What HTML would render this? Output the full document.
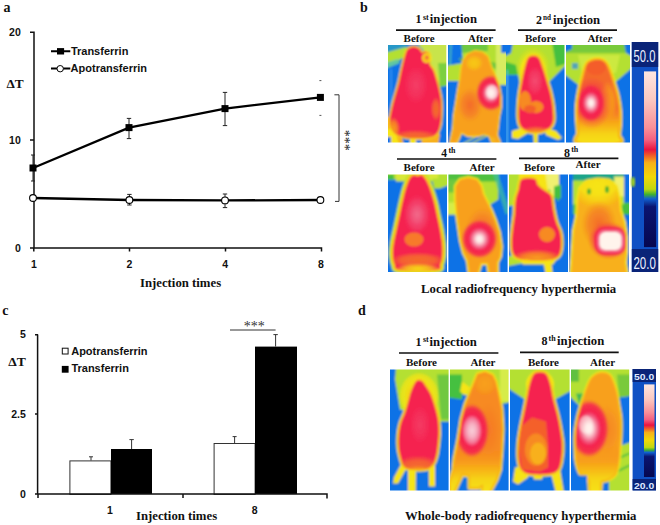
<!DOCTYPE html>
<html><head><meta charset="utf-8">
<style>
html,body{margin:0;padding:0;background:#fff;width:660px;height:525px;overflow:hidden}
svg{display:block}
.sv{font-family:"Liberation Serif",serif;font-weight:bold;fill:#111}
.ss{font-family:"Liberation Sans",sans-serif;font-weight:bold;fill:#111}
</style></head><body>
<svg width="660" height="525" viewBox="0 0 660 525">
<defs>
<filter id="bl" x="-5%" y="-5%" width="110%" height="110%"><feGaussianBlur stdDeviation="1.2"/></filter>
<filter id="bl2" x="-20%" y="-20%" width="140%" height="140%"><feGaussianBlur stdDeviation="2.5"/></filter>
<filter id="tb" x="-10%" y="-10%" width="120%" height="120%"><feGaussianBlur stdDeviation="1"/></filter>
<linearGradient id="gb" x1="0" y1="0" x2="0" y2="1">
<stop offset="0" stop-color="#fde6e0"/><stop offset="0.16" stop-color="#fbc8c0"/><stop offset="0.32" stop-color="#f89098"/>
<stop offset="0.39" stop-color="#f46080"/><stop offset="0.445" stop-color="#ea1440"/><stop offset="0.48" stop-color="#f06028"/>
<stop offset="0.52" stop-color="#f8b018"/><stop offset="0.6" stop-color="#f2d808"/><stop offset="0.67" stop-color="#c0d810"/>
<stop offset="0.7" stop-color="#40b030"/><stop offset="0.725" stop-color="#1060d0"/><stop offset="0.77" stop-color="#0a1470"/>
<stop offset="1" stop-color="#060850"/></linearGradient>
<linearGradient id="gd" x1="0" y1="0" x2="0" y2="1">
<stop offset="0" stop-color="#fde6e0"/><stop offset="0.16" stop-color="#fbc8c0"/><stop offset="0.3" stop-color="#f89098"/>
<stop offset="0.38" stop-color="#f46080"/><stop offset="0.44" stop-color="#ea1440"/><stop offset="0.48" stop-color="#f06028"/>
<stop offset="0.52" stop-color="#f8b018"/><stop offset="0.6" stop-color="#f2d808"/><stop offset="0.68" stop-color="#c0d810"/>
<stop offset="0.71" stop-color="#40b030"/><stop offset="0.735" stop-color="#1060d0"/><stop offset="0.78" stop-color="#0a1470"/>
<stop offset="1" stop-color="#060850"/></linearGradient>
</defs>

<!-- ============ PANEL A ============ -->
<g id="pa">
<text class="sv" x="3.6" y="12.2" font-size="14">a</text>
<g class="ss" font-size="10.5" text-anchor="end">
<text x="20.8" y="36">20</text>
<text x="20.8" y="144">10</text>
<text x="20.8" y="251.5">0</text>
</g>
<text class="sv" x="6.4" y="88.4" font-size="13" textLength="17.2" lengthAdjust="spacingAndGlyphs">ΔT</text>
<g stroke="#111" stroke-width="1.5" fill="none">
<path d="M34 31.6V248.8M30 32.2H34.5M30 140H34.5M30 248H321.5V251.5M129.5 248V251.5M225.5 248V251.5M33.8 248V251.5"/>
</g>
<g class="ss" font-size="10.5" text-anchor="middle">
<text x="33.9" y="268.4">1</text>
<text x="129.4" y="268.4">2</text>
<text x="225.2" y="268.4">4</text>
<text x="320.9" y="268.4">8</text>
</g>
<text class="sv" x="140" y="287" font-size="12.75">Injection times</text>
<!-- error bars -->
<g stroke="#222" stroke-width="1" fill="none">
<path d="M33 155V181M31 155H35M31 181H35"/>
<path d="M129 118.4V138.6M126.8 118.4H131.2M126.8 138.6H131.2"/>
<path d="M225 92.4V125.6M222.8 92.4H227.2M222.8 125.6H227.2"/>
<path d="M319.4 80.6H321.4M319.4 115.4H321.4" stroke="#555"/>
<path d="M129.4 194.4V205M127.2 194.4H131.6M127.2 205H131.6"/>
<path d="M225 194V207.6M222.8 194H227.2M222.8 207.6H227.2"/>
</g>
<!-- lines -->
<polyline points="33,168 129,127.6 225,108.6 320.4,97.4" fill="none" stroke="#000" stroke-width="2.3"/>
<polyline points="33,198 129.4,200 225,200.4 320.4,200" fill="none" stroke="#000" stroke-width="2.3"/>
<g fill="#000">
<rect x="29.5" y="164.5" width="7" height="7"/>
<rect x="125.5" y="124.1" width="7" height="7"/>
<rect x="221.5" y="105.1" width="7" height="7"/>
<rect x="316.9" y="93.9" width="7" height="7"/>
</g>
<g fill="#fff" stroke="#000" stroke-width="1.1">
<circle cx="33" cy="198" r="3.4"/>
<circle cx="129.4" cy="200" r="3.4"/>
<circle cx="225" cy="200.4" r="3.4"/>
<circle cx="320.4" cy="200" r="3.4"/>
</g>
<!-- legend -->
<path d="M51 51.3H70.3M51 68.6H70.3" stroke="#000" stroke-width="2"/>
<rect x="57" y="48.1" width="7.1" height="6.4" fill="#000"/>
<circle cx="60.2" cy="68.7" r="3.2" fill="#fff" stroke="#000" stroke-width="1"/>
<g class="ss" font-size="11">
<text x="70.9" y="54.5">Transferrin</text>
<text x="70.6" y="72.3">Apotransferrin</text>
</g>
<!-- bracket -->
<path d="M334.4 94.8H339V201.4H335" stroke="#333" stroke-width="1" fill="none"/>
<text font-family="Liberation Serif" font-size="14" fill="#222" transform="translate(339.5,129.7) rotate(90)">***</text>
</g>

<!-- ============ PANEL C ============ -->
<g id="pc">
<text class="sv" x="2.2" y="314.8" font-size="14">c</text>
<g class="ss" font-size="10.5" text-anchor="end">
<text x="25.8" y="338.2">5</text>
<text x="25.8" y="418.2">2.5</text>
<text x="25.8" y="497.8">0</text>
</g>
<text class="sv" x="8.2" y="365.6" font-size="13" textLength="17.6" lengthAdjust="spacingAndGlyphs">ΔT</text>
<!-- bars -->
<rect x="69.9" y="460.9" width="41" height="33.5" fill="#fff" stroke="#333" stroke-width="1"/>
<rect x="111" y="449" width="41" height="45" fill="#000"/>
<rect x="214.1" y="443.5" width="41" height="50.9" fill="#fff" stroke="#333" stroke-width="1"/>
<rect x="255" y="346.6" width="42" height="147.4" fill="#000"/>
<g stroke="#333" stroke-width="1" fill="none">
<path d="M91 460.5V456.8M89 456.8H93"/>
<path d="M131.6 449V439.6M129.4 439.6H133.8"/>
<path d="M234.6 443V436.6M232.6 436.6H236.6"/>
<path d="M275.6 346.6V334.6M273.4 334.6H277.8"/>
<path d="M230 330H275.6"/>
</g>
<g stroke="#111" stroke-width="1.5" fill="none">
<path d="M37.6 334.4V494.8M35 334.8H38M35 414H38M35 494H327V498.5M183 494V498M38 494V498"/>
</g>
<text font-family="Liberation Serif" font-size="14" fill="#333" x="243.8" y="331.2">***</text>
<!-- legend -->
<rect x="62.3" y="348.2" width="5.8" height="5.8" fill="#fff" stroke="#111" stroke-width="1"/>
<rect x="61.8" y="365.9" width="6.8" height="6.8" fill="#000"/>
<g class="ss" font-size="11">
<text x="71.2" y="354.5">Apotransferrin</text>
<text x="71.4" y="372.3">Transferrin</text>
</g>
<g class="ss" font-size="10.5" text-anchor="middle">
<text x="110" y="514.2">1</text>
<text x="254.6" y="514.2">8</text>
</g>
<text class="sv" x="136" y="520" font-size="12.75">Injection times</text>
</g>

<!-- ============ PANEL B ============ -->
<g id="pb">
<text class="sv" x="360" y="11.7" font-size="14">b</text>
<!-- headers -->
<g class="sv">
<text x="415.5" y="23.4" font-size="12">1</text><text x="423" y="19.5" font-size="8">st</text><text x="429.8" y="23.4" font-size="12.7">injection</text>
<text x="535.9" y="23.8" font-size="12">2</text><text x="543" y="19.8" font-size="8" textLength="8" lengthAdjust="spacingAndGlyphs">nd</text><text x="552.9" y="23.8" font-size="12.7">injection</text>
<text x="441.2" y="156.8" font-size="11.5">4</text><text x="448.4" y="152.9" font-size="8">th</text>
<text x="564.1" y="156.6" font-size="12">8</text><text x="571.2" y="152" font-size="8">th</text>
</g>
<g stroke="#111" stroke-width="1.6">
<path d="M396 30.1H495.6M518 30.1H617M397 159H496.4M519 158.4H618.4"/>
</g>
<g class="sv" font-size="11">
<text x="403.6" y="41.6">Before</text>
<text x="468" y="41.6">After</text>
<text x="525" y="41.6">Before</text>
<text x="587.4" y="41.6">After</text>
<text x="403.6" y="170.6">Before</text>
<text x="469.6" y="170.6">After</text>
<text x="524" y="170.6">Before</text>
<text x="575.6" y="168">After</text>
</g>
<text class="sv" x="421" y="293" font-size="12.75">Local radiofrequency hyperthermia</text>
<!-- images placeholders -->
<!-- colorbar b -->
<g id="cbb">
<rect x="631.8" y="42" width="26.4" height="230" fill="#0f50c4"/>
<rect x="631.8" y="42" width="26.4" height="25" fill="#0a2478"/>
<rect x="631.8" y="249" width="26.4" height="23" fill="#0a2478"/>
<rect x="644" y="71.4" width="12.1" height="175.7" fill="url(#gb)"/>
<ellipse cx="633" cy="182" rx="2" ry="5" fill="#a0d020" filter="url(#tb)"/>
<text x="0" y="0" transform="translate(633.6,62.2) scale(0.7,1)" font-family="Liberation Sans" font-size="16" fill="#eef2ff">50.0</text>
<text x="0" y="0" transform="translate(633.4,268.6) scale(0.7,1)" font-family="Liberation Sans" font-size="16.5" fill="#eef2ff">20.0</text>
</g>
</g>

<!-- ============ PANEL D ============ -->
<g id="pd">
<text class="sv" x="357.9" y="314.9" font-size="14">d</text>
<g class="sv">
<text x="415.5" y="345.6" font-size="12">1</text><text x="423" y="341.9" font-size="8">st</text><text x="429.6" y="345.6" font-size="12.7">injection</text>
<text x="541.6" y="345.4" font-size="12">8</text><text x="548.5" y="341.1" font-size="8">th</text><text x="557" y="345.4" font-size="12.7">injection</text>
</g>
<g stroke="#111" stroke-width="1.6">
<path d="M399 353H498.4M520 352.4H618.7"/>
</g>
<g class="sv" font-size="11">
<text x="406" y="365.6">Before</text>
<text x="470.4" y="365.6">After</text>
<text x="528" y="365.6">Before</text>
<text x="590" y="365.6">After</text>
</g>
<text class="sv" x="405" y="519.6" font-size="12.75">Whole-body radiofrequency hyperthermia</text>
<!--IMG_START-->
<radialGradient id="hs1"><stop offset="0" stop-color="#fff8f2"/><stop offset="0.16" stop-color="#fde8e6"/><stop offset="0.3" stop-color="#f8a8b8"/><stop offset="0.46" stop-color="#f25a80"/><stop offset="0.6" stop-color="#f5224f"/><stop offset="0.84" stop-color="#f5224f" stop-opacity="0.85"/><stop offset="1" stop-color="#f04040" stop-opacity="0"/></radialGradient>
<radialGradient id="hs2"><stop offset="0" stop-color="#fff8f0"/><stop offset="0.55" stop-color="#fff0e8"/><stop offset="0.66" stop-color="#f8b0c0"/><stop offset="0.76" stop-color="#f04a70"/><stop offset="0.86" stop-color="#f5224f"/><stop offset="0.94" stop-color="#f5224f" stop-opacity="0.7"/><stop offset="1" stop-color="#f04040" stop-opacity="0"/></radialGradient>
<radialGradient id="hsP"><stop offset="0" stop-color="#f9d0da"/><stop offset="0.25" stop-color="#f7b0c2"/><stop offset="0.45" stop-color="#f47898"/><stop offset="0.6" stop-color="#f5224f"/><stop offset="0.84" stop-color="#f5224f" stop-opacity="0.85"/><stop offset="1" stop-color="#f04040" stop-opacity="0"/></radialGradient>
<radialGradient id="og"><stop offset="0" stop-color="#f46a2a"/><stop offset="0.6" stop-color="#f47a28" stop-opacity="0.7"/><stop offset="1" stop-color="#f78a20" stop-opacity="0"/></radialGradient>
<radialGradient id="oo"><stop offset="0" stop-color="#f8a01a"/><stop offset="0.6" stop-color="#f8a01a" stop-opacity="0.7"/><stop offset="1" stop-color="#f8a01a" stop-opacity="0"/></radialGradient>
<radialGradient id="yy"><stop offset="0" stop-color="#f6e414"/><stop offset="0.6" stop-color="#f6e414" stop-opacity="0.7"/><stop offset="1" stop-color="#f6e414" stop-opacity="0"/></radialGradient>
<radialGradient id="pk"><stop offset="0" stop-color="#f36a8a"/><stop offset="0.6" stop-color="#f25078" stop-opacity="0.6"/><stop offset="1" stop-color="#f5224f" stop-opacity="0"/></radialGradient>
<radialGradient id="rr"><stop offset="0" stop-color="#f5224f"/><stop offset="0.6" stop-color="#f5224f" stop-opacity="0.7"/><stop offset="1" stop-color="#f5224f" stop-opacity="0"/></radialGradient>
<linearGradient id="oy" x1="0" y1="0" x2="0" y2="1"><stop offset="0" stop-color="#f78a20" stop-opacity="0"/><stop offset="0.35" stop-color="#f8a01a"/><stop offset="0.7" stop-color="#f6d414"/><stop offset="1" stop-color="#f6e414"/></linearGradient>
<linearGradient id="ro" x1="0" y1="0" x2="0" y2="1"><stop offset="0" stop-color="#f46a2a" stop-opacity="0"/><stop offset="0.4" stop-color="#f46a2a"/><stop offset="0.75" stop-color="#f8a01a"/><stop offset="1" stop-color="#f6d414"/></linearGradient>

<clipPath id="cp0"><rect x="0" y="0" width="58.3" height="97.6"/></clipPath><g transform="translate(388,45)" clip-path="url(#cp0)"><g filter="url(#tb)"><rect x="-4" y="-4" width="66.3" height="105.6" fill="#0a72e6"/><path d="M28,-3 L62,-3 L62,40 L52,40 L45,25 L40,10Z" fill="#c8e44c" /><path d="M50,18 L62,18 L62,40 L52,42Z" fill="#7cd040" /><path d="M-3,-3 L20,-3 L18,3 L-3,10Z" fill="#2898c8" /><path d="M-3,8 L18,2 L22,8 L10,16 L-3,20Z" fill="#b4e030" /><path d="M-3,18 L10,14 L12,18 L-3,24Z" fill="#60c8a0" /><path d="M2,24 L4,24 L4,80 L2,80Z" fill="#2a8cf0" /><path d="M-3,72 L5,72 L10,88 L20,92 L44,92 L50,86 L52,90 L50,101 L-3,101Z" fill="#f8b01a" /><path d="M-3,84 L6,84 L12,101 L-3,101Z" fill="#f6e414" /><path d="M-3,92 L3,92 L3,101 L-3,101Z" fill="#0a72e6" /><path d="M14,92 L34,92 L33,101 L16,101Z" fill="#0a72e6" /><path d="M22,90 L28,90 L28,101 L22,101Z" fill="#f6e414" /><path d="M18,8 C19.2,4.6 19.7,4.5 21,3.5 C22.3,2.5 24.3,1.9 26,2 C27.7,2.1 29.7,3.0 31,4 C32.3,5.0 33.0,7.5 34,8 C35.0,8.5 35.8,6.8 37,7 C38.2,7.2 40.2,7.8 41,9 C41.8,10.2 42.0,12.3 42,14 C42.0,15.7 40.5,17.2 41,19 C41.5,20.8 43.8,22.5 45,25 C46.2,27.5 47.0,30.7 48,34 C49.0,37.3 50.2,41.2 51,45 C51.8,48.8 52.7,52.8 53,57 C53.3,61.2 53.2,66.2 53,70 C52.8,73.8 52.7,77.0 52,80 C51.3,83.0 50.7,86.0 49,88 C47.3,90.0 46.2,91.2 42,92 C37.8,92.8 29.3,93.3 24,93 C18.7,92.7 13.3,91.5 10,90 C6.7,88.5 5.3,86.3 4,84 C2.7,81.7 2.0,79.3 2,76 C2.0,72.7 3.2,68.0 4,64 C4.8,60.0 5.8,56.3 7,52 C8.2,47.7 9.8,42.7 11,38 C12.2,33.3 12.8,29.0 14,24 C15.2,19.0 16.8,11.4 18,8Z" fill="#f6e414" stroke="#f6e414" stroke-width="3.5" stroke-linejoin="round"/><path d="M18,8 C19.2,4.6 19.7,4.5 21,3.5 C22.3,2.5 24.3,1.9 26,2 C27.7,2.1 29.7,3.0 31,4 C32.3,5.0 33.0,7.5 34,8 C35.0,8.5 35.8,6.8 37,7 C38.2,7.2 40.2,7.8 41,9 C41.8,10.2 42.0,12.3 42,14 C42.0,15.7 40.5,17.2 41,19 C41.5,20.8 43.8,22.5 45,25 C46.2,27.5 47.0,30.7 48,34 C49.0,37.3 50.2,41.2 51,45 C51.8,48.8 52.7,52.8 53,57 C53.3,61.2 53.2,66.2 53,70 C52.8,73.8 52.7,77.0 52,80 C51.3,83.0 50.7,86.0 49,88 C47.3,90.0 46.2,91.2 42,92 C37.8,92.8 29.3,93.3 24,93 C18.7,92.7 13.3,91.5 10,90 C6.7,88.5 5.3,86.3 4,84 C2.7,81.7 2.0,79.3 2,76 C2.0,72.7 3.2,68.0 4,64 C4.8,60.0 5.8,56.3 7,52 C8.2,47.7 9.8,42.7 11,38 C12.2,33.3 12.8,29.0 14,24 C15.2,19.0 16.8,11.4 18,8Z" fill="#f8b01a" stroke="#f8b01a" stroke-width="2" stroke-linejoin="round"/><path d="M18,8 C19.2,4.6 19.7,4.5 21,3.5 C22.3,2.5 24.3,1.9 26,2 C27.7,2.1 29.7,3.0 31,4 C32.3,5.0 33.0,7.5 34,8 C35.0,8.5 35.8,6.8 37,7 C38.2,7.2 40.2,7.8 41,9 C41.8,10.2 42.0,12.3 42,14 C42.0,15.7 40.5,17.2 41,19 C41.5,20.8 43.8,22.5 45,25 C46.2,27.5 47.0,30.7 48,34 C49.0,37.3 50.2,41.2 51,45 C51.8,48.8 52.7,52.8 53,57 C53.3,61.2 53.2,66.2 53,70 C52.8,73.8 52.7,77.0 52,80 C51.3,83.0 50.7,86.0 49,88 C47.3,90.0 46.2,91.2 42,92 C37.8,92.8 29.3,93.3 24,93 C18.7,92.7 13.3,91.5 10,90 C6.7,88.5 5.3,86.3 4,84 C2.7,81.7 2.0,79.3 2,76 C2.0,72.7 3.2,68.0 4,64 C4.8,60.0 5.8,56.3 7,52 C8.2,47.7 9.8,42.7 11,38 C12.2,33.3 12.8,29.0 14,24 C15.2,19.0 16.8,11.4 18,8Z" fill="#f5224f"/><clipPath id="bc1"><path d="M18,8 C19.2,4.6 19.7,4.5 21,3.5 C22.3,2.5 24.3,1.9 26,2 C27.7,2.1 29.7,3.0 31,4 C32.3,5.0 33.0,7.5 34,8 C35.0,8.5 35.8,6.8 37,7 C38.2,7.2 40.2,7.8 41,9 C41.8,10.2 42.0,12.3 42,14 C42.0,15.7 40.5,17.2 41,19 C41.5,20.8 43.8,22.5 45,25 C46.2,27.5 47.0,30.7 48,34 C49.0,37.3 50.2,41.2 51,45 C51.8,48.8 52.7,52.8 53,57 C53.3,61.2 53.2,66.2 53,70 C52.8,73.8 52.7,77.0 52,80 C51.3,83.0 50.7,86.0 49,88 C47.3,90.0 46.2,91.2 42,92 C37.8,92.8 29.3,93.3 24,93 C18.7,92.7 13.3,91.5 10,90 C6.7,88.5 5.3,86.3 4,84 C2.7,81.7 2.0,79.3 2,76 C2.0,72.7 3.2,68.0 4,64 C4.8,60.0 5.8,56.3 7,52 C8.2,47.7 9.8,42.7 11,38 C12.2,33.3 12.8,29.0 14,24 C15.2,19.0 16.8,11.4 18,8Z"/></clipPath><g clip-path="url(#bc1)"><ellipse cx="28" cy="40" rx="14" ry="22" fill="url(#pk)" opacity="0.4"/><ellipse cx="48" cy="64" rx="5" ry="12" fill="url(#og)" /><ellipse cx="27" cy="93" rx="26" ry="8" fill="url(#og)" /><ellipse cx="5" cy="84" rx="7" ry="12" fill="url(#oo)" /></g><ellipse cx="38.5" cy="13" rx="4.5" ry="5" fill="#f6e414" /><ellipse cx="38.5" cy="13" rx="3" ry="3.5" fill="#f8b01a" /><ellipse cx="39" cy="12.5" rx="1.2" ry="1.2" fill="#f5224f" /></g></g>
<clipPath id="cp1"><rect x="0" y="0" width="58" height="97.6"/></clipPath><g transform="translate(448,45)" clip-path="url(#cp1)"><g filter="url(#tb)"><rect x="-4" y="-4" width="66" height="105.6" fill="#0a72e6"/><path d="M-3,12 L12,10 L18,-3 L62,-3 L62,40 L48,40 L48,36 L-3,36Z" fill="#b4e030" /><path d="M-3,-3 L13,-3 L15,18 L-3,21Z" fill="#0a72e6" /><path d="M2,-3 L4,-3 L3,20 L1,20Z" fill="#40b0c0" /><path d="M12,14 L17,16" stroke="#50b040" stroke-width="2" fill="none" stroke-linecap="round"/><path d="M13,-3 L40,-3 L40,6 L14,8Z" fill="#70c840" /><path d="M36,15 L48,18 L48,24 L36,21Z" fill="#60c040" opacity="0.8"/><path d="M48,-3 L62,-3 L62,39 L48,39Z" fill="#d8ec60" /><path d="M53,-3 L62,-3 L62,8 L53,8Z" fill="#0a72e6" /><path d="M9,86 L17,86 L15,101 L7,101Z" fill="#0a72e6" /><path d="M20,91 L44,89 L44,101 L18,101Z" fill="#0a72e6" /><path d="M12,101 L22,95 L32,89" stroke="#c8e030" stroke-width="1.3" fill="none" stroke-linecap="round"/><path d="M20,101 L30,95 L40,90" stroke="#c8e030" stroke-width="1.3" fill="none" stroke-linecap="round"/><path d="M16,16 L20,10 L27,7 L34,8 L39,12 L41,18 L43,24 L46,30 L50,40 L52,52 L52,62 L50,72 L49,82 L48,90 L51,97.6 L45,97.6 L42,90 L36,88 L30,90 L20,90 L13,86 L8,97.6 L3,97.6 L6,84 L7,70 L9,58 L11,45 L13,34 L14,24Z" fill="#f6e414" stroke="#f6e414" stroke-width="4" stroke-linejoin="round"/><path d="M16,16 L20,10 L27,7 L34,8 L39,12 L41,18 L43,24 L46,30 L50,40 L52,52 L52,62 L50,72 L49,82 L48,90 L51,97.6 L45,97.6 L42,90 L36,88 L30,90 L20,90 L13,86 L8,97.6 L3,97.6 L6,84 L7,70 L9,58 L11,45 L13,34 L14,24Z" fill="#f8b01a" stroke="#f8b01a" stroke-width="2.5" stroke-linejoin="round"/><path d="M16,16 L20,10 L27,7 L34,8 L39,12 L41,18 L43,24 L46,30 L50,40 L52,52 L52,62 L50,72 L49,82 L48,90 L51,97.6 L45,97.6 L42,90 L36,88 L30,90 L20,90 L13,86 L8,97.6 L3,97.6 L6,84 L7,70 L9,58 L11,45 L13,34 L14,24Z" fill="#f8a01e"/><clipPath id="bc2"><path d="M16,16 L20,10 L27,7 L34,8 L39,12 L41,18 L43,24 L46,30 L50,40 L52,52 L52,62 L50,72 L49,82 L48,90 L51,97.6 L45,97.6 L42,90 L36,88 L30,90 L20,90 L13,86 L8,97.6 L3,97.6 L6,84 L7,70 L9,58 L11,45 L13,34 L14,24Z"/></clipPath><g clip-path="url(#bc2)"><ellipse cx="26" cy="18" rx="15" ry="14" fill="url(#oo)" /><ellipse cx="26" cy="18" rx="9" ry="8" fill="url(#yy)" opacity="0.6"/><ellipse cx="22" cy="60" rx="13" ry="18" fill="url(#og)" /><ellipse cx="28" cy="84" rx="22" ry="10" fill="url(#oo)" /><ellipse cx="28" cy="95" rx="22" ry="6" fill="url(#yy)" /><ellipse cx="43" cy="48" rx="15" ry="18" fill="url(#hs1)" /><ellipse cx="44" cy="47" rx="6" ry="7" fill="#fff0ec" opacity="0.6"/></g></g></g>
<clipPath id="cp2"><rect x="0" y="0" width="58.5" height="97.6"/></clipPath><g transform="translate(506,45)" clip-path="url(#cp2)"><g filter="url(#tb)"><rect x="-4" y="-4" width="66.5" height="105.6" fill="#0a72e6"/><path d="M5,-3 L62,-3 L62,18 L42,38 L40,44 L15,44 L12,30 L-3,28 L-3,12 L5,8Z" fill="#b4e030" /><path d="M-3,-3 L7,-3 L5,8 L-3,12Z" fill="#0a72e6" /><path d="M46,-3 L62,-3 L62,18 L50,22Z" fill="#44c040" /><path d="M-3,16 L10,20 L12,30 L-3,30Z" fill="#44c040" /><path d="M0.5,25 L1.8,25 L1.8,101 L0.5,101Z" fill="#60c0f0" /><ellipse cx="27" cy="22" rx="17" ry="20" fill="url(#yy)" /><ellipse cx="27" cy="28" rx="13" ry="18" fill="#f6e414" /><path d="M6,86 L19,82 L22,88 L12,94 L6,93Z" fill="#f6e414" /><path d="M38,82 L50,86 L56,93 L52,95 L40,90Z" fill="#f6e414" /><path d="M27,85 L32,85 L31.5,101 L28,101Z" fill="#f6e414" /><path d="M22,14 C22.8,12.6 23.7,11.9 25,11.5 C26.3,11.1 28.7,11.1 30,11.5 C31.3,11.9 32.2,12.8 33,14 C33.8,15.2 34.2,16.7 35,19 C35.8,21.3 37.0,24.8 38,28 C39.0,31.2 40.0,34.7 41,38 C42.0,41.3 43.2,44.7 44,48 C44.8,51.3 45.5,54.7 46,58 C46.5,61.3 46.8,65.0 47,68 C47.2,71.0 47.5,73.7 47,76 C46.5,78.3 45.8,80.3 44,82 C42.2,83.7 38.7,85.2 36,86 C33.3,86.8 30.7,87.2 28,87 C25.3,86.8 22.2,86.0 20,85 C17.8,84.0 16.2,82.8 15,81 C13.8,79.2 13.3,77.2 13,74 C12.7,70.8 12.8,66.0 13,62 C13.2,58.0 13.5,54.0 14,50 C14.5,46.0 15.3,41.7 16,38 C16.7,34.3 17.3,31.0 18,28 C18.7,25.0 19.3,22.3 20,20 C20.7,17.7 21.2,15.4 22,14Z" fill="#f6e414" stroke="#f6e414" stroke-width="5" stroke-linejoin="round"/><path d="M22,14 C22.8,12.6 23.7,11.9 25,11.5 C26.3,11.1 28.7,11.1 30,11.5 C31.3,11.9 32.2,12.8 33,14 C33.8,15.2 34.2,16.7 35,19 C35.8,21.3 37.0,24.8 38,28 C39.0,31.2 40.0,34.7 41,38 C42.0,41.3 43.2,44.7 44,48 C44.8,51.3 45.5,54.7 46,58 C46.5,61.3 46.8,65.0 47,68 C47.2,71.0 47.5,73.7 47,76 C46.5,78.3 45.8,80.3 44,82 C42.2,83.7 38.7,85.2 36,86 C33.3,86.8 30.7,87.2 28,87 C25.3,86.8 22.2,86.0 20,85 C17.8,84.0 16.2,82.8 15,81 C13.8,79.2 13.3,77.2 13,74 C12.7,70.8 12.8,66.0 13,62 C13.2,58.0 13.5,54.0 14,50 C14.5,46.0 15.3,41.7 16,38 C16.7,34.3 17.3,31.0 18,28 C18.7,25.0 19.3,22.3 20,20 C20.7,17.7 21.2,15.4 22,14Z" fill="#f8b01a" stroke="#f8b01a" stroke-width="2.5" stroke-linejoin="round"/><path d="M22,14 C22.8,12.6 23.7,11.9 25,11.5 C26.3,11.1 28.7,11.1 30,11.5 C31.3,11.9 32.2,12.8 33,14 C33.8,15.2 34.2,16.7 35,19 C35.8,21.3 37.0,24.8 38,28 C39.0,31.2 40.0,34.7 41,38 C42.0,41.3 43.2,44.7 44,48 C44.8,51.3 45.5,54.7 46,58 C46.5,61.3 46.8,65.0 47,68 C47.2,71.0 47.5,73.7 47,76 C46.5,78.3 45.8,80.3 44,82 C42.2,83.7 38.7,85.2 36,86 C33.3,86.8 30.7,87.2 28,87 C25.3,86.8 22.2,86.0 20,85 C17.8,84.0 16.2,82.8 15,81 C13.8,79.2 13.3,77.2 13,74 C12.7,70.8 12.8,66.0 13,62 C13.2,58.0 13.5,54.0 14,50 C14.5,46.0 15.3,41.7 16,38 C16.7,34.3 17.3,31.0 18,28 C18.7,25.0 19.3,22.3 20,20 C20.7,17.7 21.2,15.4 22,14Z" fill="#f5224f"/><clipPath id="bc3"><path d="M22,14 C22.8,12.6 23.7,11.9 25,11.5 C26.3,11.1 28.7,11.1 30,11.5 C31.3,11.9 32.2,12.8 33,14 C33.8,15.2 34.2,16.7 35,19 C35.8,21.3 37.0,24.8 38,28 C39.0,31.2 40.0,34.7 41,38 C42.0,41.3 43.2,44.7 44,48 C44.8,51.3 45.5,54.7 46,58 C46.5,61.3 46.8,65.0 47,68 C47.2,71.0 47.5,73.7 47,76 C46.5,78.3 45.8,80.3 44,82 C42.2,83.7 38.7,85.2 36,86 C33.3,86.8 30.7,87.2 28,87 C25.3,86.8 22.2,86.0 20,85 C17.8,84.0 16.2,82.8 15,81 C13.8,79.2 13.3,77.2 13,74 C12.7,70.8 12.8,66.0 13,62 C13.2,58.0 13.5,54.0 14,50 C14.5,46.0 15.3,41.7 16,38 C16.7,34.3 17.3,31.0 18,28 C18.7,25.0 19.3,22.3 20,20 C20.7,17.7 21.2,15.4 22,14Z"/></clipPath><g clip-path="url(#bc3)"><ellipse cx="29" cy="36" rx="10" ry="17" fill="url(#pk)" opacity="0.6"/><ellipse cx="19" cy="56" rx="6" ry="10" fill="#f78a20" /><ellipse cx="30" cy="62" rx="7.5" ry="6" fill="#f78a20" /><ellipse cx="24" cy="64" rx="6" ry="4" fill="#f4602c" /><ellipse cx="30" cy="90" rx="20" ry="9" fill="url(#oo)" /></g></g></g>
<clipPath id="cp3"><rect x="0" y="0" width="64" height="97.6"/></clipPath><g transform="translate(566,45)" clip-path="url(#cp3)"><g filter="url(#tb)"><rect x="-4" y="-4" width="72" height="105.6" fill="#0a72e6"/><path d="M-3,-3 L67,-3 L67,22 L46,40 L15,42 L-3,28Z" fill="#b4e030" /><path d="M-3,-3 L67,-3 L67,8 L-3,8Z" fill="#60c040" opacity="0.7"/><path d="M-3,-3 L6,-3 L6,4 L-3,8Z" fill="#0a72e6" /><path d="M58,-3 L67,-3 L67,12 L60,8Z" fill="#0a72e6" /><path d="M12,10 L54,10 L50,28 L16,28Z" fill="#d6ec48" opacity="0.7"/><path d="M6,18 L12,18 L12,24 L6,24Z" fill="#2a8cf0" opacity="0.7"/><path d="M19,93 L28,92 L29,101 L18,101Z" fill="#0a72e6" /><path d="M38,94 L44,93 L45,101 L37,101Z" fill="#0a72e6" /><path d="M21,20 C22.5,17.0 24.0,16.8 26,16 C28.0,15.2 30.8,14.7 33,15 C35.2,15.3 37.3,16.2 39,18 C40.7,19.8 41.7,22.7 43,26 C44.3,29.3 45.7,33.7 47,38 C48.3,42.3 50.0,47.3 51,52 C52.0,56.7 52.7,61.3 53,66 C53.3,70.7 53.2,76.0 53,80 C52.8,84.0 52.2,87.1 52,90 C51.8,92.9 58.5,96.3 52,97.6 C45.5,98.9 19.5,99.2 13,97.6 C6.5,96.0 13.2,91.9 13,88 C12.8,84.1 12.2,78.7 12,74 C11.8,69.3 11.7,64.7 12,60 C12.3,55.3 13.2,50.3 14,46 C14.8,41.7 15.8,38.3 17,34 C18.2,29.7 19.5,23.0 21,20Z" fill="#f6e414" stroke="#f6e414" stroke-width="6" stroke-linejoin="round"/><path d="M21,20 C22.5,17.0 24.0,16.8 26,16 C28.0,15.2 30.8,14.7 33,15 C35.2,15.3 37.3,16.2 39,18 C40.7,19.8 41.7,22.7 43,26 C44.3,29.3 45.7,33.7 47,38 C48.3,42.3 50.0,47.3 51,52 C52.0,56.7 52.7,61.3 53,66 C53.3,70.7 53.2,76.0 53,80 C52.8,84.0 52.2,87.1 52,90 C51.8,92.9 58.5,96.3 52,97.6 C45.5,98.9 19.5,99.2 13,97.6 C6.5,96.0 13.2,91.9 13,88 C12.8,84.1 12.2,78.7 12,74 C11.8,69.3 11.7,64.7 12,60 C12.3,55.3 13.2,50.3 14,46 C14.8,41.7 15.8,38.3 17,34 C18.2,29.7 19.5,23.0 21,20Z" fill="#f8b01a" stroke="#f8b01a" stroke-width="3.5" stroke-linejoin="round"/><path d="M21,20 C22.5,17.0 24.0,16.8 26,16 C28.0,15.2 30.8,14.7 33,15 C35.2,15.3 37.3,16.2 39,18 C40.7,19.8 41.7,22.7 43,26 C44.3,29.3 45.7,33.7 47,38 C48.3,42.3 50.0,47.3 51,52 C52.0,56.7 52.7,61.3 53,66 C53.3,70.7 53.2,76.0 53,80 C52.8,84.0 52.2,87.1 52,90 C51.8,92.9 58.5,96.3 52,97.6 C45.5,98.9 19.5,99.2 13,97.6 C6.5,96.0 13.2,91.9 13,88 C12.8,84.1 12.2,78.7 12,74 C11.8,69.3 11.7,64.7 12,60 C12.3,55.3 13.2,50.3 14,46 C14.8,41.7 15.8,38.3 17,34 C18.2,29.7 19.5,23.0 21,20Z" fill="#f46a2c"/><clipPath id="bc4"><path d="M21,20 C22.5,17.0 24.0,16.8 26,16 C28.0,15.2 30.8,14.7 33,15 C35.2,15.3 37.3,16.2 39,18 C40.7,19.8 41.7,22.7 43,26 C44.3,29.3 45.7,33.7 47,38 C48.3,42.3 50.0,47.3 51,52 C52.0,56.7 52.7,61.3 53,66 C53.3,70.7 53.2,76.0 53,80 C52.8,84.0 52.2,87.1 52,90 C51.8,92.9 58.5,96.3 52,97.6 C45.5,98.9 19.5,99.2 13,97.6 C6.5,96.0 13.2,91.9 13,88 C12.8,84.1 12.2,78.7 12,74 C11.8,69.3 11.7,64.7 12,60 C12.3,55.3 13.2,50.3 14,46 C14.8,41.7 15.8,38.3 17,34 C18.2,29.7 19.5,23.0 21,20Z"/></clipPath><g clip-path="url(#bc4)"><ellipse cx="30" cy="22" rx="10" ry="8" fill="#f45a2c" opacity="0.8"/><ellipse cx="42" cy="58" rx="10" ry="22" fill="url(#oo)" /><path d="M8,62 L58,62 L58,101 L8,101Z" fill="url(#oy)" /><ellipse cx="26" cy="58" rx="20" ry="26" fill="url(#rr)" opacity="0.7"/><ellipse cx="25" cy="58" rx="14" ry="19" fill="url(#hs1)" /></g></g></g>
<clipPath id="cp4"><rect x="0" y="0" width="59" height="97.5"/></clipPath><g transform="translate(388,174.5)" clip-path="url(#cp4)"><g filter="url(#tb)"><rect x="-4" y="-4" width="67" height="105.5" fill="#0a72e6"/><path d="M-3,-3 L62,-3 L62,7 L-3,7Z" fill="#b4e030" /><path d="M8,-3 L50,-3 L50,6 L8,6Z" fill="#d8e838" /><path d="M-3,5 L8,5 L8,20 L-3,20Z" fill="#0a72e6" /><path d="M44,4 L62,4 L62,10 L52,14 L46,14Z" fill="#b4e030" /><path d="M-3,0 L6,0 L6,5 L-3,5Z" fill="#44c040" /><path d="M6,90 L54,90 L52,101 L8,101Z" fill="#f6e414" /><path d="M6,95 L12,95 L12,101 L6,101Z" fill="#0a72e6" /><path d="M46,95 L52,95 L52,101 L46,101Z" fill="#0a72e6" /><path d="M22,4 C23.3,1.8 24.7,1.3 26,1 C27.3,0.7 28.7,2.0 30,2 C31.3,2.0 32.7,0.3 34,1 C35.3,1.7 36.7,3.7 38,6 C39.3,8.3 40.7,11.3 42,15 C43.3,18.7 44.8,23.5 46,28 C47.2,32.5 48.0,37.3 49,42 C50.0,46.7 51.2,51.3 52,56 C52.8,60.7 53.7,65.7 54,70 C54.3,74.3 54.3,78.7 54,82 C53.7,85.3 53.0,87.8 52,90 C51.0,92.2 54.7,94.2 48,95 C41.3,95.8 18.8,95.8 12,95 C5.2,94.2 8.2,92.5 7,90 C5.8,87.5 5.2,83.7 5,80 C4.8,76.3 5.3,72.3 6,68 C6.7,63.7 8.0,58.7 9,54 C10.0,49.3 11.0,44.7 12,40 C13.0,35.3 14.0,30.3 15,26 C16.0,21.7 16.8,17.7 18,14 C19.2,10.3 20.7,6.2 22,4Z" fill="#b4e030" stroke="#b4e030" stroke-width="8" stroke-linejoin="round"/><path d="M22,4 C23.3,1.8 24.7,1.3 26,1 C27.3,0.7 28.7,2.0 30,2 C31.3,2.0 32.7,0.3 34,1 C35.3,1.7 36.7,3.7 38,6 C39.3,8.3 40.7,11.3 42,15 C43.3,18.7 44.8,23.5 46,28 C47.2,32.5 48.0,37.3 49,42 C50.0,46.7 51.2,51.3 52,56 C52.8,60.7 53.7,65.7 54,70 C54.3,74.3 54.3,78.7 54,82 C53.7,85.3 53.0,87.8 52,90 C51.0,92.2 54.7,94.2 48,95 C41.3,95.8 18.8,95.8 12,95 C5.2,94.2 8.2,92.5 7,90 C5.8,87.5 5.2,83.7 5,80 C4.8,76.3 5.3,72.3 6,68 C6.7,63.7 8.0,58.7 9,54 C10.0,49.3 11.0,44.7 12,40 C13.0,35.3 14.0,30.3 15,26 C16.0,21.7 16.8,17.7 18,14 C19.2,10.3 20.7,6.2 22,4Z" fill="#f6e414" stroke="#f6e414" stroke-width="5" stroke-linejoin="round"/><path d="M22,4 C23.3,1.8 24.7,1.3 26,1 C27.3,0.7 28.7,2.0 30,2 C31.3,2.0 32.7,0.3 34,1 C35.3,1.7 36.7,3.7 38,6 C39.3,8.3 40.7,11.3 42,15 C43.3,18.7 44.8,23.5 46,28 C47.2,32.5 48.0,37.3 49,42 C50.0,46.7 51.2,51.3 52,56 C52.8,60.7 53.7,65.7 54,70 C54.3,74.3 54.3,78.7 54,82 C53.7,85.3 53.0,87.8 52,90 C51.0,92.2 54.7,94.2 48,95 C41.3,95.8 18.8,95.8 12,95 C5.2,94.2 8.2,92.5 7,90 C5.8,87.5 5.2,83.7 5,80 C4.8,76.3 5.3,72.3 6,68 C6.7,63.7 8.0,58.7 9,54 C10.0,49.3 11.0,44.7 12,40 C13.0,35.3 14.0,30.3 15,26 C16.0,21.7 16.8,17.7 18,14 C19.2,10.3 20.7,6.2 22,4Z" fill="#f8b01a" stroke="#f8b01a" stroke-width="2.5" stroke-linejoin="round"/><path d="M22,4 C23.3,1.8 24.7,1.3 26,1 C27.3,0.7 28.7,2.0 30,2 C31.3,2.0 32.7,0.3 34,1 C35.3,1.7 36.7,3.7 38,6 C39.3,8.3 40.7,11.3 42,15 C43.3,18.7 44.8,23.5 46,28 C47.2,32.5 48.0,37.3 49,42 C50.0,46.7 51.2,51.3 52,56 C52.8,60.7 53.7,65.7 54,70 C54.3,74.3 54.3,78.7 54,82 C53.7,85.3 53.0,87.8 52,90 C51.0,92.2 54.7,94.2 48,95 C41.3,95.8 18.8,95.8 12,95 C5.2,94.2 8.2,92.5 7,90 C5.8,87.5 5.2,83.7 5,80 C4.8,76.3 5.3,72.3 6,68 C6.7,63.7 8.0,58.7 9,54 C10.0,49.3 11.0,44.7 12,40 C13.0,35.3 14.0,30.3 15,26 C16.0,21.7 16.8,17.7 18,14 C19.2,10.3 20.7,6.2 22,4Z" fill="#f5224f"/><clipPath id="bc5"><path d="M22,4 C23.3,1.8 24.7,1.3 26,1 C27.3,0.7 28.7,2.0 30,2 C31.3,2.0 32.7,0.3 34,1 C35.3,1.7 36.7,3.7 38,6 C39.3,8.3 40.7,11.3 42,15 C43.3,18.7 44.8,23.5 46,28 C47.2,32.5 48.0,37.3 49,42 C50.0,46.7 51.2,51.3 52,56 C52.8,60.7 53.7,65.7 54,70 C54.3,74.3 54.3,78.7 54,82 C53.7,85.3 53.0,87.8 52,90 C51.0,92.2 54.7,94.2 48,95 C41.3,95.8 18.8,95.8 12,95 C5.2,94.2 8.2,92.5 7,90 C5.8,87.5 5.2,83.7 5,80 C4.8,76.3 5.3,72.3 6,68 C6.7,63.7 8.0,58.7 9,54 C10.0,49.3 11.0,44.7 12,40 C13.0,35.3 14.0,30.3 15,26 C16.0,21.7 16.8,17.7 18,14 C19.2,10.3 20.7,6.2 22,4Z"/></clipPath><g clip-path="url(#bc5)"><ellipse cx="29" cy="40" rx="15" ry="22" fill="url(#pk)" /><ellipse cx="29" cy="40" rx="10" ry="14" fill="url(#pk)" /><ellipse cx="26" cy="65" rx="9.5" ry="7" fill="#f77a2a" /><ellipse cx="30" cy="86" rx="28" ry="8" fill="url(#og)" /><ellipse cx="30" cy="95" rx="24" ry="6" fill="url(#yy)" /></g></g></g>
<clipPath id="cp5"><rect x="0" y="0" width="59.2" height="97.5"/></clipPath><g transform="translate(448.4,174.5)" clip-path="url(#cp5)"><g filter="url(#tb)"><rect x="-4" y="-4" width="67.2" height="105.5" fill="#0a72e6"/><path d="M-3,-3 L50,-3 L50,25 L42,30 L42,40 L-3,40Z" fill="#b4e030" /><path d="M-3,-3 L50,-3 L50,7 L-3,7Z" fill="#50c040" /><path d="M-3,5 L8,5 L8,18 L-3,18Z" fill="#70c840" /><path d="M-3,28 L8,28 L8,40 L-3,40Z" fill="#d6ec48" /><path d="M44,-3 L49,-3 L62,38 L57,40Z" fill="#40c0a0" opacity="0.7"/><path d="M52,-3 L62,-3 L62,30Z" fill="#0a72e6" /><path d="M8,12 L12,6 L20,4 L28,6 L32,12 L34,20 L38,28 L42,36 L46,46 L50,58 L52,72 L51,82 L48,88 L48,101 L42,101 L40,88 L32,88 L28,101 L22,101 L20,86 L16,78 L13,66 L11,52 L9,38 L8,25Z" fill="#f6e414" stroke="#f6e414" stroke-width="5" stroke-linejoin="round"/><path d="M8,12 L12,6 L20,4 L28,6 L32,12 L34,20 L38,28 L42,36 L46,46 L50,58 L52,72 L51,82 L48,88 L48,101 L42,101 L40,88 L32,88 L28,101 L22,101 L20,86 L16,78 L13,66 L11,52 L9,38 L8,25Z" fill="#f8b01a" stroke="#f8b01a" stroke-width="2" stroke-linejoin="round"/><path d="M8,12 L12,6 L20,4 L28,6 L32,12 L34,20 L38,28 L42,36 L46,46 L50,58 L52,72 L51,82 L48,88 L48,101 L42,101 L40,88 L32,88 L28,101 L22,101 L20,86 L16,78 L13,66 L11,52 L9,38 L8,25Z" fill="#f8a01e"/><clipPath id="bc6"><path d="M8,12 L12,6 L20,4 L28,6 L32,12 L34,20 L38,28 L42,36 L46,46 L50,58 L52,72 L51,82 L48,88 L48,101 L42,101 L40,88 L32,88 L28,101 L22,101 L20,86 L16,78 L13,66 L11,52 L9,38 L8,25Z"/></clipPath><g clip-path="url(#bc6)"><ellipse cx="18" cy="12" rx="14" ry="12" fill="url(#oo)" /><ellipse cx="34" cy="58" rx="18" ry="26" fill="url(#og)" /><ellipse cx="31" cy="64.5" rx="18" ry="19.5" fill="url(#hs1)" /></g></g></g>
<clipPath id="cp6"><rect x="0" y="0" width="59" height="97.5"/></clipPath><g transform="translate(509,174.5)" clip-path="url(#cp6)"><g filter="url(#tb)"><rect x="-4" y="-4" width="67" height="105.5" fill="#0a72e6"/><path d="M-3,-3 L12,-3 L12,30 L-3,32Z" fill="#b4e030" /><path d="M10,-3 L52,-3 L52,22 L10,22Z" fill="#f6e414" /><path d="M36,-3 L50,-3 L50,22 L40,22Z" fill="#f0f070" /><path d="M50,-3 L62,-3 L62,101 L45,101 L45,22 L50,20Z" fill="#0a72e6" /><path d="M45,12 L52,10 L52,24 L45,24Z" fill="#44c040" /><path d="M-3,82 L15,80 L18,88 L-3,92Z" fill="#b4e030" /><path d="M10,84 L48,84 L44,90 L14,90Z" fill="#f6e414" /><path d="M34,86 L42,86 L44,101 L37,101Z" fill="#f6e414" /><ellipse cx="40" cy="17" rx="1.5" ry="2" fill="#44c040" /><ellipse cx="49" cy="25" rx="1" ry="1.5" fill="#44c040" /><path d="M12,6 C13.3,4.2 15.7,4.2 18,4 C20.3,3.8 24.3,4.0 26,5 C27.7,6.0 27.0,8.5 28,10 C29.0,11.5 30.3,12.7 32,14 C33.7,15.3 36.3,16.7 38,18 C39.7,19.3 41.0,19.2 42,22 C43.0,24.8 43.2,30.7 44,35 C44.8,39.3 45.8,44.2 47,48 C48.2,51.8 50.2,54.3 51,58 C51.8,61.7 52.2,66.3 52,70 C51.8,73.7 51.3,77.7 50,80 C48.7,82.3 47.3,83.2 44,84 C40.7,84.8 35.3,85.0 30,85 C24.7,85.0 16.2,84.8 12,84 C7.8,83.2 6.5,82.3 5,80 C3.5,77.7 3.2,74.2 3,70 C2.8,65.8 3.5,60.0 4,55 C4.5,50.0 5.5,45.0 6,40 C6.5,35.0 6.3,29.2 7,25 C7.7,20.8 9.2,18.2 10,15 C10.8,11.8 10.7,7.8 12,6Z" fill="#f6e414" stroke="#f6e414" stroke-width="5" stroke-linejoin="round"/><path d="M12,6 C13.3,4.2 15.7,4.2 18,4 C20.3,3.8 24.3,4.0 26,5 C27.7,6.0 27.0,8.5 28,10 C29.0,11.5 30.3,12.7 32,14 C33.7,15.3 36.3,16.7 38,18 C39.7,19.3 41.0,19.2 42,22 C43.0,24.8 43.2,30.7 44,35 C44.8,39.3 45.8,44.2 47,48 C48.2,51.8 50.2,54.3 51,58 C51.8,61.7 52.2,66.3 52,70 C51.8,73.7 51.3,77.7 50,80 C48.7,82.3 47.3,83.2 44,84 C40.7,84.8 35.3,85.0 30,85 C24.7,85.0 16.2,84.8 12,84 C7.8,83.2 6.5,82.3 5,80 C3.5,77.7 3.2,74.2 3,70 C2.8,65.8 3.5,60.0 4,55 C4.5,50.0 5.5,45.0 6,40 C6.5,35.0 6.3,29.2 7,25 C7.7,20.8 9.2,18.2 10,15 C10.8,11.8 10.7,7.8 12,6Z" fill="#f8b01a" stroke="#f8b01a" stroke-width="2.5" stroke-linejoin="round"/><path d="M12,6 C13.3,4.2 15.7,4.2 18,4 C20.3,3.8 24.3,4.0 26,5 C27.7,6.0 27.0,8.5 28,10 C29.0,11.5 30.3,12.7 32,14 C33.7,15.3 36.3,16.7 38,18 C39.7,19.3 41.0,19.2 42,22 C43.0,24.8 43.2,30.7 44,35 C44.8,39.3 45.8,44.2 47,48 C48.2,51.8 50.2,54.3 51,58 C51.8,61.7 52.2,66.3 52,70 C51.8,73.7 51.3,77.7 50,80 C48.7,82.3 47.3,83.2 44,84 C40.7,84.8 35.3,85.0 30,85 C24.7,85.0 16.2,84.8 12,84 C7.8,83.2 6.5,82.3 5,80 C3.5,77.7 3.2,74.2 3,70 C2.8,65.8 3.5,60.0 4,55 C4.5,50.0 5.5,45.0 6,40 C6.5,35.0 6.3,29.2 7,25 C7.7,20.8 9.2,18.2 10,15 C10.8,11.8 10.7,7.8 12,6Z" fill="#f5224f"/><clipPath id="bc7"><path d="M12,6 C13.3,4.2 15.7,4.2 18,4 C20.3,3.8 24.3,4.0 26,5 C27.7,6.0 27.0,8.5 28,10 C29.0,11.5 30.3,12.7 32,14 C33.7,15.3 36.3,16.7 38,18 C39.7,19.3 41.0,19.2 42,22 C43.0,24.8 43.2,30.7 44,35 C44.8,39.3 45.8,44.2 47,48 C48.2,51.8 50.2,54.3 51,58 C51.8,61.7 52.2,66.3 52,70 C51.8,73.7 51.3,77.7 50,80 C48.7,82.3 47.3,83.2 44,84 C40.7,84.8 35.3,85.0 30,85 C24.7,85.0 16.2,84.8 12,84 C7.8,83.2 6.5,82.3 5,80 C3.5,77.7 3.2,74.2 3,70 C2.8,65.8 3.5,60.0 4,55 C4.5,50.0 5.5,45.0 6,40 C6.5,35.0 6.3,29.2 7,25 C7.7,20.8 9.2,18.2 10,15 C10.8,11.8 10.7,7.8 12,6Z"/></clipPath><g clip-path="url(#bc7)"><ellipse cx="38" cy="60" rx="8" ry="7.5" fill="#f78a20" /><ellipse cx="28" cy="84" rx="26" ry="9" fill="url(#oo)" /></g></g></g>
<clipPath id="cp7"><rect x="0" y="0" width="60" height="97.5"/></clipPath><g transform="translate(569,174.5)" clip-path="url(#cp7)"><g filter="url(#tb)"><rect x="-4" y="-4" width="68" height="105.5" fill="#0a72e6"/><path d="M-3,-3 L63,-3 L63,8 L-3,8Z" fill="#1aa58a" /><path d="M-3,28 L63,28 L63,40 L-3,40Z" fill="#44c040" /><path d="M4,6 L55,6 L55,30 L4,30Z" fill="#b4e030" /><path d="M45,2 L55,2 L55,22 L47,22Z" fill="#f0f070" /><path d="M-3,-3 L4,-3 L4,42 L-3,42Z" fill="#0a72e6" /><path d="M55,-3 L63,-3 L63,10 L55,10Z" fill="#0a72e6" /><path d="M55,22 L63,22 L63,28 L55,28Z" fill="#0a72e6" /><path d="M9,26 L11,14 L18,7 L29,5 L40,6 L47,12 L50,24 L51,36 L55,48 L57,62 L57,78 L56,88 L58,101 L2,101 L3,88 L4,72 L5,56 L8,42Z" fill="#f6e414" stroke="#f6e414" stroke-width="4" stroke-linejoin="round"/><path d="M9,26 L11,14 L18,7 L29,5 L40,6 L47,12 L50,24 L51,36 L55,48 L57,62 L57,78 L56,88 L58,101 L2,101 L3,88 L4,72 L5,56 L8,42Z" fill="#f8b01a"/><clipPath id="bc8"><path d="M9,26 L11,14 L18,7 L29,5 L40,6 L47,12 L50,24 L51,36 L55,48 L57,62 L57,78 L56,88 L58,101 L2,101 L3,88 L4,72 L5,56 L8,42Z"/></clipPath><g clip-path="url(#bc8)"><ellipse cx="29" cy="12" rx="28" ry="22" fill="url(#yy)" /><ellipse cx="29" cy="10" rx="20" ry="12" fill="#f6e414" opacity="0.6"/><ellipse cx="30" cy="50" rx="18" ry="24" fill="url(#og)" /><ellipse cx="40" cy="66" rx="21" ry="19" fill="url(#rr)" /><rect x="25" y="52" width="32" height="29" rx="11" fill="#f5224f" opacity="0.85"/><rect x="28" y="55" width="27" height="23" rx="8" fill="#f4668a"/><rect x="30.5" y="57.5" width="22" height="18" rx="6" fill="#fff4ec"/></g><ellipse cx="20" cy="17" rx="2" ry="3" fill="#50b030" /><ellipse cx="38" cy="15" rx="2" ry="3.5" fill="#50b030" /></g></g>
<clipPath id="cp8"><rect x="0" y="0" width="58.6" height="120.8"/></clipPath><g transform="translate(390,369.6)" clip-path="url(#cp8)"><g filter="url(#tb)"><rect x="-4" y="-4" width="66.6" height="128.8" fill="#0a72e6"/><path d="M5,-3 L62,-3 L62,52 L48,52 L40,42 L20,42 L10,40 L5,10Z" fill="#b4e030" /><path d="M-3,-3 L6,-3 L5,10 L-3,14Z" fill="#0a72e6" /><path d="M47,5 L62,5 L62,50 L51,50Z" fill="#70c840" /><ellipse cx="29" cy="26" rx="20" ry="24" fill="url(#yy)" /><ellipse cx="29" cy="26" rx="19" ry="22" fill="#f6e414" opacity="0.6"/><ellipse cx="29" cy="28" rx="14" ry="17" fill="url(#oo)" /><path d="M12,93 L18,96 L8,114 L3,114 L4,108Z" fill="#f6e414" /><path d="M38.6,96 L45,96 L45,117 L39,117Z" fill="#f6e414" /><path d="M18,96 L26,96 L25.7,124 L18,124Z" fill="#f6e414" /><path d="M25,14 C26.2,12.0 26.8,11.3 28,11 C29.2,10.7 30.8,11.2 32,12 C33.2,12.8 33.7,14.0 35,16 C36.3,18.0 38.7,21.3 40,24 C41.3,26.7 42.0,29.0 43,32 C44.0,35.0 45.2,38.7 46,42 C46.8,45.3 47.6,48.3 48,52 C48.4,55.7 48.6,60.0 48.5,64 C48.4,68.0 47.9,72.3 47.5,76 C47.1,79.7 46.8,83.0 46,86 C45.2,89.0 44.7,91.8 43,94 C41.3,96.2 39.8,98.2 36,99 C32.2,99.8 23.7,99.5 20,99 C16.3,98.5 15.5,97.8 14,96 C12.5,94.2 11.8,91.0 11,88 C10.2,85.0 9.3,81.7 9,78 C8.7,74.3 8.7,70.0 9,66 C9.3,62.0 10.0,57.7 11,54 C12.0,50.3 13.8,47.3 15,44 C16.2,40.7 17.0,37.5 18,34 C19.0,30.5 19.8,26.3 21,23 C22.2,19.7 23.8,16.0 25,14Z" fill="#f6e414" stroke="#f6e414" stroke-width="5" stroke-linejoin="round"/><path d="M25,14 C26.2,12.0 26.8,11.3 28,11 C29.2,10.7 30.8,11.2 32,12 C33.2,12.8 33.7,14.0 35,16 C36.3,18.0 38.7,21.3 40,24 C41.3,26.7 42.0,29.0 43,32 C44.0,35.0 45.2,38.7 46,42 C46.8,45.3 47.6,48.3 48,52 C48.4,55.7 48.6,60.0 48.5,64 C48.4,68.0 47.9,72.3 47.5,76 C47.1,79.7 46.8,83.0 46,86 C45.2,89.0 44.7,91.8 43,94 C41.3,96.2 39.8,98.2 36,99 C32.2,99.8 23.7,99.5 20,99 C16.3,98.5 15.5,97.8 14,96 C12.5,94.2 11.8,91.0 11,88 C10.2,85.0 9.3,81.7 9,78 C8.7,74.3 8.7,70.0 9,66 C9.3,62.0 10.0,57.7 11,54 C12.0,50.3 13.8,47.3 15,44 C16.2,40.7 17.0,37.5 18,34 C19.0,30.5 19.8,26.3 21,23 C22.2,19.7 23.8,16.0 25,14Z" fill="#f8b01a" stroke="#f8b01a" stroke-width="2.5" stroke-linejoin="round"/><path d="M25,14 C26.2,12.0 26.8,11.3 28,11 C29.2,10.7 30.8,11.2 32,12 C33.2,12.8 33.7,14.0 35,16 C36.3,18.0 38.7,21.3 40,24 C41.3,26.7 42.0,29.0 43,32 C44.0,35.0 45.2,38.7 46,42 C46.8,45.3 47.6,48.3 48,52 C48.4,55.7 48.6,60.0 48.5,64 C48.4,68.0 47.9,72.3 47.5,76 C47.1,79.7 46.8,83.0 46,86 C45.2,89.0 44.7,91.8 43,94 C41.3,96.2 39.8,98.2 36,99 C32.2,99.8 23.7,99.5 20,99 C16.3,98.5 15.5,97.8 14,96 C12.5,94.2 11.8,91.0 11,88 C10.2,85.0 9.3,81.7 9,78 C8.7,74.3 8.7,70.0 9,66 C9.3,62.0 10.0,57.7 11,54 C12.0,50.3 13.8,47.3 15,44 C16.2,40.7 17.0,37.5 18,34 C19.0,30.5 19.8,26.3 21,23 C22.2,19.7 23.8,16.0 25,14Z" fill="#f5224f"/><clipPath id="bc9"><path d="M25,14 C26.2,12.0 26.8,11.3 28,11 C29.2,10.7 30.8,11.2 32,12 C33.2,12.8 33.7,14.0 35,16 C36.3,18.0 38.7,21.3 40,24 C41.3,26.7 42.0,29.0 43,32 C44.0,35.0 45.2,38.7 46,42 C46.8,45.3 47.6,48.3 48,52 C48.4,55.7 48.6,60.0 48.5,64 C48.4,68.0 47.9,72.3 47.5,76 C47.1,79.7 46.8,83.0 46,86 C45.2,89.0 44.7,91.8 43,94 C41.3,96.2 39.8,98.2 36,99 C32.2,99.8 23.7,99.5 20,99 C16.3,98.5 15.5,97.8 14,96 C12.5,94.2 11.8,91.0 11,88 C10.2,85.0 9.3,81.7 9,78 C8.7,74.3 8.7,70.0 9,66 C9.3,62.0 10.0,57.7 11,54 C12.0,50.3 13.8,47.3 15,44 C16.2,40.7 17.0,37.5 18,34 C19.0,30.5 19.8,26.3 21,23 C22.2,19.7 23.8,16.0 25,14Z"/></clipPath><g clip-path="url(#bc9)"><ellipse cx="30" cy="55" rx="12" ry="22" fill="url(#pk)" opacity="0.35"/><ellipse cx="28" cy="100" rx="26" ry="14" fill="url(#og)" /><ellipse cx="28" cy="102" rx="18" ry="6" fill="url(#oo)" /></g></g></g>
<clipPath id="cp9"><rect x="0" y="0" width="58.6" height="120.8"/></clipPath><g transform="translate(450,369.6)" clip-path="url(#cp9)"><g filter="url(#tb)"><rect x="-4" y="-4" width="66.6" height="128.8" fill="#0a72e6"/><path d="M-3,-3 L62,-3 L62,32 L50,35 L15,25 L-3,25Z" fill="#b4e030" /><path d="M-3,5 L12,5 L12,30 L-3,28Z" fill="#44c040" /><path d="M50,-3 L62,-3 L62,32 L50,32Z" fill="#d6ec48" /><path d="M12,12 L20,18 L16,26 L10,22Z" fill="#f6e414" /><path d="M28,5 L35,3 L42,6 L45,12 L48,25 L51,40 L52,60 L51,80 L49.5,100 L46,110 L38.5,124 L33,124 L33,115 L28,118 L20,118 L20,106 L12,104 L3,124 L-3,124 L4,100 L5,90 L9,70 L12,50 L16,35 L22,20Z" fill="#f6e414" stroke="#f6e414" stroke-width="5" stroke-linejoin="round"/><path d="M28,5 L35,3 L42,6 L45,12 L48,25 L51,40 L52,60 L51,80 L49.5,100 L46,110 L38.5,124 L33,124 L33,115 L28,118 L20,118 L20,106 L12,104 L3,124 L-3,124 L4,100 L5,90 L9,70 L12,50 L16,35 L22,20Z" fill="#f8b01a" stroke="#f8b01a" stroke-width="2.5" stroke-linejoin="round"/><path d="M28,5 L35,3 L42,6 L45,12 L48,25 L51,40 L52,60 L51,80 L49.5,100 L46,110 L38.5,124 L33,124 L33,115 L28,118 L20,118 L20,106 L12,104 L3,124 L-3,124 L4,100 L5,90 L9,70 L12,50 L16,35 L22,20Z" fill="#f78a20"/><clipPath id="bc10"><path d="M28,5 L35,3 L42,6 L45,12 L48,25 L51,40 L52,60 L51,80 L49.5,100 L46,110 L38.5,124 L33,124 L33,115 L28,118 L20,118 L20,106 L12,104 L3,124 L-3,124 L4,100 L5,90 L9,70 L12,50 L16,35 L22,20Z"/></clipPath><g clip-path="url(#bc10)"><ellipse cx="35" cy="14" rx="12" ry="12" fill="url(#oo)" /><ellipse cx="38" cy="60" rx="14" ry="30" fill="url(#og)" opacity="0.6"/><path d="M0,78 L58,78 L58,124 L0,124Z" fill="url(#oy)" /><ellipse cx="22" cy="61" rx="17" ry="27" fill="url(#hsP)" /></g></g></g>
<clipPath id="cp10"><rect x="0" y="0" width="59.6" height="120.8"/></clipPath><g transform="translate(510,369.6)" clip-path="url(#cp10)"><g filter="url(#tb)"><rect x="-4" y="-4" width="67.6" height="128.8" fill="#0a72e6"/><path d="M-3,-3 L63,-3 L63,20 L45,30 L15,30 L-3,18Z" fill="#b4e030" /><ellipse cx="30" cy="15" rx="14" ry="14" fill="#f6e414" /><path d="M5,98 L18,96 L18,108 L8,115 L3,112Z" fill="#f6e414" /><path d="M40,100 L50,99 L54,124 L46,124Z" fill="#f6e414" /><path d="M22,100 L34,100 L32,110 L24,110Z" fill="#f6e414" /><path d="M24,5 C25.7,3.0 28.0,3.0 30,3 C32.0,3.0 34.3,3.0 36,5 C37.7,7.0 38.8,10.8 40,15 C41.2,19.2 41.8,25.0 43,30 C44.2,35.0 45.8,40.0 47,45 C48.2,50.0 49.2,55.0 50,60 C50.8,65.0 51.8,70.0 52,75 C52.2,80.0 51.7,85.8 51,90 C50.3,94.2 49.8,97.7 48,100 C46.2,102.3 44.7,103.3 40,104 C35.3,104.7 24.7,104.7 20,104 C15.3,103.3 13.8,102.3 12,100 C10.2,97.7 9.5,94.2 9,90 C8.5,85.8 8.7,80.0 9,75 C9.3,70.0 10.2,65.0 11,60 C11.8,55.0 13.0,50.0 14,45 C15.0,40.0 16.0,35.0 17,30 C18.0,25.0 18.8,19.2 20,15 C21.2,10.8 22.3,7.0 24,5Z" fill="#f6e414" stroke="#f6e414" stroke-width="5" stroke-linejoin="round"/><path d="M24,5 C25.7,3.0 28.0,3.0 30,3 C32.0,3.0 34.3,3.0 36,5 C37.7,7.0 38.8,10.8 40,15 C41.2,19.2 41.8,25.0 43,30 C44.2,35.0 45.8,40.0 47,45 C48.2,50.0 49.2,55.0 50,60 C50.8,65.0 51.8,70.0 52,75 C52.2,80.0 51.7,85.8 51,90 C50.3,94.2 49.8,97.7 48,100 C46.2,102.3 44.7,103.3 40,104 C35.3,104.7 24.7,104.7 20,104 C15.3,103.3 13.8,102.3 12,100 C10.2,97.7 9.5,94.2 9,90 C8.5,85.8 8.7,80.0 9,75 C9.3,70.0 10.2,65.0 11,60 C11.8,55.0 13.0,50.0 14,45 C15.0,40.0 16.0,35.0 17,30 C18.0,25.0 18.8,19.2 20,15 C21.2,10.8 22.3,7.0 24,5Z" fill="#f8b01a" stroke="#f8b01a" stroke-width="2.5" stroke-linejoin="round"/><path d="M24,5 C25.7,3.0 28.0,3.0 30,3 C32.0,3.0 34.3,3.0 36,5 C37.7,7.0 38.8,10.8 40,15 C41.2,19.2 41.8,25.0 43,30 C44.2,35.0 45.8,40.0 47,45 C48.2,50.0 49.2,55.0 50,60 C50.8,65.0 51.8,70.0 52,75 C52.2,80.0 51.7,85.8 51,90 C50.3,94.2 49.8,97.7 48,100 C46.2,102.3 44.7,103.3 40,104 C35.3,104.7 24.7,104.7 20,104 C15.3,103.3 13.8,102.3 12,100 C10.2,97.7 9.5,94.2 9,90 C8.5,85.8 8.7,80.0 9,75 C9.3,70.0 10.2,65.0 11,60 C11.8,55.0 13.0,50.0 14,45 C15.0,40.0 16.0,35.0 17,30 C18.0,25.0 18.8,19.2 20,15 C21.2,10.8 22.3,7.0 24,5Z" fill="#f5224f"/><clipPath id="bc11"><path d="M24,5 C25.7,3.0 28.0,3.0 30,3 C32.0,3.0 34.3,3.0 36,5 C37.7,7.0 38.8,10.8 40,15 C41.2,19.2 41.8,25.0 43,30 C44.2,35.0 45.8,40.0 47,45 C48.2,50.0 49.2,55.0 50,60 C50.8,65.0 51.8,70.0 52,75 C52.2,80.0 51.7,85.8 51,90 C50.3,94.2 49.8,97.7 48,100 C46.2,102.3 44.7,103.3 40,104 C35.3,104.7 24.7,104.7 20,104 C15.3,103.3 13.8,102.3 12,100 C10.2,97.7 9.5,94.2 9,90 C8.5,85.8 8.7,80.0 9,75 C9.3,70.0 10.2,65.0 11,60 C11.8,55.0 13.0,50.0 14,45 C15.0,40.0 16.0,35.0 17,30 C18.0,25.0 18.8,19.2 20,15 C21.2,10.8 22.3,7.0 24,5Z"/></clipPath><g clip-path="url(#bc11)"><path d="M10,58 L22,48 L36,52 L38,75 L38,98 L30,102 L12,100 L9,80Z" fill="#f4602c" /><ellipse cx="26" cy="80" rx="11" ry="16" fill="#f78a20" /><ellipse cx="28" cy="84" rx="8" ry="11" fill="#f8b01a" /></g></g></g>
<clipPath id="cp11"><rect x="0" y="0" width="58.2" height="120.8"/></clipPath><g transform="translate(571,369.6)" clip-path="url(#cp11)"><g filter="url(#tb)"><rect x="-4" y="-4" width="66.2" height="128.8" fill="#0a72e6"/><path d="M-3,-3 L62,-3 L62,26 L48,28 L12,40 L-3,25Z" fill="#b4e030" /><path d="M-3,-3 L8,-3 L8,12 L-3,12Z" fill="#60c040" /><path d="M46,5 L62,5 L62,26 L48,28Z" fill="#60c040" opacity="0.7"/><path d="M5,24 L14,24 L16,36 L9,38Z" fill="#40b858" /><path d="M38,80 L62,72 L62,124 L38,124Z" fill="#b4e030" /><path d="M40,92 L58,84" stroke="#50c040" stroke-width="2" fill="none" stroke-linecap="round"/><path d="M42,104 L58,96" stroke="#50c040" stroke-width="2" fill="none" stroke-linecap="round"/><path d="M22,8 C24.0,6.2 27.3,4.3 30,4 C32.7,3.7 36.0,4.3 38,6 C40.0,7.7 40.8,11.0 42,14 C43.2,17.0 44.2,20.3 45,24 C45.8,27.7 46.3,31.7 47,36 C47.7,40.3 48.7,45.0 49,50 C49.3,55.0 49.2,61.0 49,66 C48.8,71.0 48.3,75.7 48,80 C47.7,84.3 47.7,88.0 47,92 C46.3,96.0 45.8,101.0 44,104 C42.2,107.0 38.3,108.7 36,110 C33.7,111.3 31.3,109.7 30,112 C28.7,114.3 29.7,122.0 28,124 C26.3,126.0 21.7,126.3 20,124 C18.3,121.7 19.7,113.3 18,110 C16.3,106.7 12.0,107.0 10,104 C8.0,101.0 6.8,96.3 6,92 C5.2,87.7 5.2,82.7 5,78 C4.8,73.3 4.7,68.7 5,64 C5.3,59.3 6.2,54.3 7,50 C7.8,45.7 8.8,42.0 10,38 C11.2,34.0 12.7,29.8 14,26 C15.3,22.2 16.7,18.0 18,15 C19.3,12.0 20.0,9.8 22,8Z" fill="#f6e414" stroke="#f6e414" stroke-width="5" stroke-linejoin="round"/><path d="M22,8 C24.0,6.2 27.3,4.3 30,4 C32.7,3.7 36.0,4.3 38,6 C40.0,7.7 40.8,11.0 42,14 C43.2,17.0 44.2,20.3 45,24 C45.8,27.7 46.3,31.7 47,36 C47.7,40.3 48.7,45.0 49,50 C49.3,55.0 49.2,61.0 49,66 C48.8,71.0 48.3,75.7 48,80 C47.7,84.3 47.7,88.0 47,92 C46.3,96.0 45.8,101.0 44,104 C42.2,107.0 38.3,108.7 36,110 C33.7,111.3 31.3,109.7 30,112 C28.7,114.3 29.7,122.0 28,124 C26.3,126.0 21.7,126.3 20,124 C18.3,121.7 19.7,113.3 18,110 C16.3,106.7 12.0,107.0 10,104 C8.0,101.0 6.8,96.3 6,92 C5.2,87.7 5.2,82.7 5,78 C4.8,73.3 4.7,68.7 5,64 C5.3,59.3 6.2,54.3 7,50 C7.8,45.7 8.8,42.0 10,38 C11.2,34.0 12.7,29.8 14,26 C15.3,22.2 16.7,18.0 18,15 C19.3,12.0 20.0,9.8 22,8Z" fill="#f8b01a" stroke="#f8b01a" stroke-width="2.5" stroke-linejoin="round"/><path d="M22,8 C24.0,6.2 27.3,4.3 30,4 C32.7,3.7 36.0,4.3 38,6 C40.0,7.7 40.8,11.0 42,14 C43.2,17.0 44.2,20.3 45,24 C45.8,27.7 46.3,31.7 47,36 C47.7,40.3 48.7,45.0 49,50 C49.3,55.0 49.2,61.0 49,66 C48.8,71.0 48.3,75.7 48,80 C47.7,84.3 47.7,88.0 47,92 C46.3,96.0 45.8,101.0 44,104 C42.2,107.0 38.3,108.7 36,110 C33.7,111.3 31.3,109.7 30,112 C28.7,114.3 29.7,122.0 28,124 C26.3,126.0 21.7,126.3 20,124 C18.3,121.7 19.7,113.3 18,110 C16.3,106.7 12.0,107.0 10,104 C8.0,101.0 6.8,96.3 6,92 C5.2,87.7 5.2,82.7 5,78 C4.8,73.3 4.7,68.7 5,64 C5.3,59.3 6.2,54.3 7,50 C7.8,45.7 8.8,42.0 10,38 C11.2,34.0 12.7,29.8 14,26 C15.3,22.2 16.7,18.0 18,15 C19.3,12.0 20.0,9.8 22,8Z" fill="#f8a01e"/><clipPath id="bc12"><path d="M22,8 C24.0,6.2 27.3,4.3 30,4 C32.7,3.7 36.0,4.3 38,6 C40.0,7.7 40.8,11.0 42,14 C43.2,17.0 44.2,20.3 45,24 C45.8,27.7 46.3,31.7 47,36 C47.7,40.3 48.7,45.0 49,50 C49.3,55.0 49.2,61.0 49,66 C48.8,71.0 48.3,75.7 48,80 C47.7,84.3 47.7,88.0 47,92 C46.3,96.0 45.8,101.0 44,104 C42.2,107.0 38.3,108.7 36,110 C33.7,111.3 31.3,109.7 30,112 C28.7,114.3 29.7,122.0 28,124 C26.3,126.0 21.7,126.3 20,124 C18.3,121.7 19.7,113.3 18,110 C16.3,106.7 12.0,107.0 10,104 C8.0,101.0 6.8,96.3 6,92 C5.2,87.7 5.2,82.7 5,78 C4.8,73.3 4.7,68.7 5,64 C5.3,59.3 6.2,54.3 7,50 C7.8,45.7 8.8,42.0 10,38 C11.2,34.0 12.7,29.8 14,26 C15.3,22.2 16.7,18.0 18,15 C19.3,12.0 20.0,9.8 22,8Z"/></clipPath><g clip-path="url(#bc12)"><ellipse cx="30" cy="14" rx="12" ry="10" fill="url(#oo)" /><ellipse cx="36" cy="60" rx="14" ry="26" fill="url(#og)" opacity="0.5"/><path d="M0,75 L58,75 L58,124 L0,124Z" fill="url(#oy)" /><ellipse cx="18" cy="59" rx="20" ry="29" fill="url(#hs1)" /><ellipse cx="15" cy="55" rx="7" ry="9" fill="#fff2ec" opacity="0.5"/></g><path d="M-3,106 L16,106 L16,124 L-3,124Z" fill="#0a72e6" /></g></g>
<!--IMG_END-->
<g id="cbd">
<rect x="632.6" y="369" width="23.4" height="121.4" fill="#0f50c4"/>
<rect x="632.6" y="369" width="23.4" height="13" fill="#0a2478"/>
<rect x="632.6" y="479" width="23.4" height="11.4" fill="#0a2478"/>
<rect x="644" y="384.4" width="10.5" height="92.6" fill="url(#gd)"/>
<text x="634" y="379.8" font-family="Liberation Sans" font-weight="bold" font-size="9.6" fill="#dfe8ff" textLength="20.2" lengthAdjust="spacingAndGlyphs">50.0</text>
<text x="634" y="489.2" font-family="Liberation Sans" font-weight="bold" font-size="9.6" fill="#dfe8ff" textLength="20.2" lengthAdjust="spacingAndGlyphs">20.0</text>
</g>
</g>
</svg>
</body></html>
